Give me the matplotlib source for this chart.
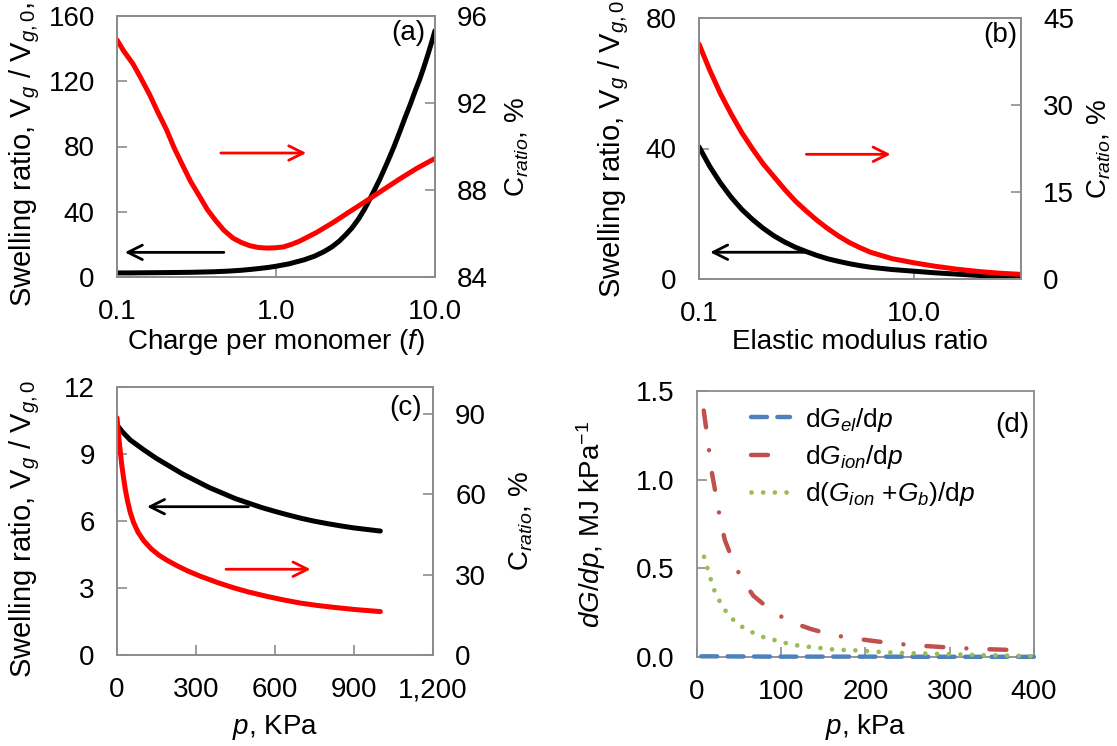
import matplotlib
matplotlib.use("Agg")
import matplotlib.pyplot as plt
from matplotlib.ticker import FixedLocator, NullLocator, FuncFormatter

plt.rcParams['font.family'] = ['Liberation Sans', 'DejaVu Sans']
plt.rcParams['mathtext.fontset'] = 'custom'
plt.rcParams['mathtext.rm'] = 'Liberation Sans'
plt.rcParams['mathtext.it'] = 'Liberation Sans:italic'
plt.rcParams['mathtext.bf'] = 'Liberation Sans:bold'
plt.rcParams['lines.scale_dashes'] = False

# ---------------- data ----------------
# (a) charge per monomer
f_swell = [0.1, 0.12, 0.15, 0.2, 0.25, 0.3, 0.4, 0.5, 0.6, 0.7, 0.8, 0.9, 1.0,
           1.2, 1.5, 1.75, 2.0, 2.25, 2.5, 2.75, 3.0, 3.3, 3.6, 4.0, 4.5, 5.0,
           5.5, 6.0, 6.5, 7.0, 7.5, 8.0, 8.5, 9.0, 9.5, 10.0]
swell_a = [2.5, 2.5, 2.6, 2.7, 2.8, 2.9, 3.2, 3.6, 4.1, 4.7, 5.3, 5.9, 6.6,
           8.0, 10.5, 12.8, 15.5, 18.5, 22, 26, 30, 35.5, 41.5, 50, 60, 70,
           79.5, 89, 98, 106, 114, 121, 128.5, 136, 143.5, 151]
f_conc = [0.1, 0.11, 0.126, 0.14, 0.16, 0.18, 0.204, 0.23, 0.26, 0.29, 0.331,
          0.37, 0.421, 0.47, 0.536, 0.6, 0.683, 0.77, 0.87, 0.98, 1.11, 1.25,
          1.41, 1.8, 2.28, 2.9, 3.7, 4.7, 5.97, 7.7, 10.0]
conc_a = [94.9, 94.4, 93.8, 93.2, 92.4, 91.6, 90.8, 89.9, 89.1, 88.4, 87.7,
          87.1, 86.56, 86.15, 85.79, 85.6, 85.44, 85.36, 85.33, 85.34, 85.38,
          85.5, 85.65, 86.05, 86.5, 87.0, 87.5, 88.0, 88.5, 89.0, 89.45]

# (b) elastic modulus ratio
e_swell = [0.1, 0.126, 0.158, 0.2, 0.251, 0.316, 0.398, 0.501, 0.631, 0.794,
           1.0, 1.26, 1.58, 2.0, 2.51, 3.16, 3.98, 6.31, 10.0, 15.8, 25.1,
           39.8, 63.1, 100.0]
swell_b = [40.5, 34.5, 29.5, 25, 21.3, 18.2, 15.5, 13.2, 11.3, 9.7, 8.4, 7.2,
           6.2, 5.4, 4.7, 4.1, 3.6, 2.9, 2.4, 1.9, 1.5, 1.1, 0.8, 0.5]
e_conc = [0.1, 0.126, 0.158, 0.2, 0.251, 0.316, 0.398, 0.501, 0.631, 0.794,
          1.0, 1.26, 1.58, 2.0, 2.51, 3.16, 3.98, 6.31, 10.0, 15.8, 25.1,
          39.8, 63.1, 100.0]
conc_b = [40.5, 36, 32, 28.4, 25.2, 22.4, 19.8, 17.6, 15.4, 13.4, 11.7, 10.1,
          8.7, 7.4, 6.3, 5.4, 4.6, 3.5, 2.8, 2.2, 1.7, 1.3, 1.0, 0.8]

# (c) pressure
p_swell = [0, 20, 50, 100, 150, 200, 250, 300, 350, 400, 450, 500, 550, 600,
           650, 700, 750, 800, 850, 900, 950, 1000]
swell_c = [10.3, 10.0, 9.63, 9.2, 8.8, 8.45, 8.1, 7.8, 7.5, 7.25, 7.0, 6.8,
           6.6, 6.43, 6.27, 6.12, 5.99, 5.88, 5.78, 5.69, 5.62, 5.55]
p_conc = [0, 4, 8, 13, 18, 25, 32, 40, 50, 63, 80, 101, 130, 160, 189, 230,
          270, 316, 380, 442, 500, 568, 630, 695, 760, 821, 900, 1000]
conc_c = [88.5, 84, 80, 75.5, 71, 66, 61.5, 57.5, 53.3, 49.4, 45.8, 42.7,
          39.6, 37.2, 35.4, 33.2, 31.3, 29.4, 27.1, 25.1, 23.5, 21.9, 20.6,
          19.4, 18.5, 17.8, 17.0, 16.2]

# (d) derivatives
p_el = [5, 50, 100, 200, 300, 400]
dGel = [0.004, 0.003, 0.002, 0.002, 0.001, 0.001]
p_ion = [8, 12, 15, 18, 23, 27, 33, 42, 53, 67, 88, 110, 135, 160, 183, 210,
         236, 261, 288, 312, 338, 364, 390]
dGion = [1.39, 1.25, 1.14, 1.03, 0.9, 0.79, 0.66, 0.55, 0.44, 0.345, 0.262,
         0.2, 0.158, 0.125, 0.107, 0.09, 0.075, 0.065, 0.057, 0.05, 0.045,
         0.041, 0.037]
p_ionb = [8.4, 12.6, 16.8, 21, 27.4, 34.5, 44, 55.6, 67.4, 81, 94, 108, 123,
          136, 164, 192, 219, 246, 276, 305, 333, 360, 400]
dGionb = [0.565, 0.50, 0.43, 0.37, 0.31, 0.256, 0.205, 0.163, 0.135, 0.108,
          0.093, 0.075, 0.062, 0.056, 0.041, 0.037, 0.028, 0.022, 0.019, 0.015,
          0.011, 0.009, 0.004]

legend_d = [r"d$G_{el}$/d$p$", r"d$G_{ion}$/d$p$", r"d($G_{ion}$ +$G_b$)/d$p$"]

# ---------------- style ----------------
W, H = 1117, 746
fig = plt.figure(figsize=(W / 100, H / 100), dpi=100)
GRAY = '#8c8c8c'
FS = 20
YFS = 21
LW = 3.6


def box(l, r, t, b):
    return [l / W, (H - b) / H, (r - l) / W, (b - t) / H]


def style(ax):
    for s in ax.spines.values():
        s.set_color(GRAY)
        s.set_linewidth(1.3)
    ax.tick_params(direction='in', length=7, width=1.2, color=GRAY,
                   labelsize=FS, pad=16, which='major')
    ax.tick_params(which='minor', length=0)


def arrow(ax, tail, tip, color):
    ax.annotate('', xy=tip, xytext=tail,
                arrowprops=dict(arrowstyle='->', lw=2, color=color,
                                mutation_scale=26, shrinkA=0, shrinkB=0))


one_dec = FuncFormatter(lambda v, p: f"{v:.1f}")
line_kw = dict(lw=LW, solid_capstyle='round', solid_joinstyle='round')

# ---------------- (a) ----------------
ax = fig.add_axes(box(117, 435, 16, 277))
ax2 = ax.twinx()
ax.plot(f_swell, swell_a, color='black', **line_kw)
ax2.plot(f_conc, conc_a, color='red', **line_kw)
ax.set_xscale('log')
ax.set_xlim(0.1, 10)
ax.set_ylim(0, 160)
ax2.set_ylim(84, 96)
ax.xaxis.set_major_locator(FixedLocator([0.1, 1, 10]))
ax.xaxis.set_minor_locator(NullLocator())
ax.xaxis.set_major_formatter(one_dec)
ax.set_yticks([0, 40, 80, 120, 160])
ax2.set_yticks([84, 88, 92, 96])
style(ax); style(ax2)
ax.set_xlabel(r"Charge per monomer ($f$)", fontsize=FS, labelpad=1.5)
ax.set_ylabel(r"Swelling ratio, V$_g$ / V$_{g,0}$,", fontsize=YFS)
ax.yaxis.set_label_coords(-0.236, 0.47)
ax2.set_ylabel(r"C$_{ratio}$, %", fontsize=FS)
ax2.yaxis.set_label_coords(1.214, 0.5)
ax.text(0.97, 0.985, '(a)', transform=ax.transAxes, ha='right', va='top',
        fontsize=FS)
arrow(ax, (0.47, 15.1), (0.112, 15.1), 'black')
arrow(ax2, (0.45, 89.7), (1.55, 89.7), 'red')

# ---------------- (b) ----------------
ax = fig.add_axes(box(699, 1021, 18, 279))
ax2 = ax.twinx()
ax.plot(e_swell, swell_b, color='black', **line_kw)
ax2.plot(e_conc, conc_b, color='red', **line_kw)
ax.set_xscale('log')
ax.set_xlim(0.1, 100)
ax.set_ylim(0, 80)
ax2.set_ylim(0, 45)
ax.xaxis.set_major_locator(FixedLocator([0.1, 10]))
ax.xaxis.set_minor_locator(NullLocator())
ax.xaxis.set_major_formatter(one_dec)
ax.set_yticks([0, 40, 80])
ax2.set_yticks([0, 15, 30, 45])
style(ax); style(ax2)
ax.set_xlabel("Elastic modulus ratio", fontsize=FS, labelpad=1.5)
ax.set_ylabel(r"Swelling ratio, V$_g$ / V$_{g,0}$", fontsize=YFS)
ax.yaxis.set_label_coords(-0.211, 0.5)
ax2.set_ylabel(r"C$_{ratio}$, %", fontsize=FS)
ax2.yaxis.set_label_coords(1.199, 0.5)
ax.text(0.99, 0.985, '(b)', transform=ax.transAxes, ha='right', va='top',
        fontsize=FS)
arrow(ax, (1.07, 8.2), (0.127, 8.2), 'black')
arrow(ax2, (1.0, 21.5), (6.1, 21.5), 'red')

# ---------------- (c) ----------------
ax = fig.add_axes(box(117, 433, 387, 655))
ax2 = ax.twinx()
ax.plot(p_swell, swell_c, color='black', **line_kw)
ax2.plot(p_conc, conc_c, color='red', **line_kw)
ax.set_xlim(0, 1200)
ax.set_ylim(0, 12)
ax2.set_ylim(0, 100)
ax.set_xticks([0, 300, 600, 900, 1200])
ax.xaxis.set_major_formatter(FuncFormatter(lambda v, p: f"{int(v):,}"))
ax.set_yticks([0, 3, 6, 9, 12])
ax2.set_yticks([0, 30, 60, 90])
style(ax); style(ax2)
ax.set_xlabel(r"$p$, KPa", fontsize=FS, labelpad=7)
ax.set_ylabel(r"Swelling ratio, V$_g$ / V$_{g,0}$", fontsize=YFS)
ax.yaxis.set_label_coords(-0.237, 0.47)
ax2.set_ylabel(r"C$_{ratio}$, %", fontsize=FS)
ax2.yaxis.set_label_coords(1.237, 0.5)
ax.text(0.965, 0.97, '(c)', transform=ax.transAxes, ha='right', va='top',
        fontsize=FS)
arrow(ax, (499, 6.64), (114, 6.64), 'black')
arrow(ax2, (414, 32), (735, 32), 'red')

# ---------------- (d) ----------------
ax = fig.add_axes(box(697, 1034, 391, 657))
ax.plot(p_el, dGel, color='#4F81BD', lw=3.2, dash_capstyle='round',
        dashes=(11.5, 7.5), label=legend_d[0], clip_on=False, zorder=3)
ax.plot(p_ion, dGion, color='#C0504D', lw=3.2, dash_capstyle='round',
        dashes=(12.2, 16.6, 0.01, 16.6), label=legend_d[1], zorder=3)
ax.plot(p_ionb, dGionb, color='#9BBB59', lw=3.4, dash_capstyle='round',
        dashes=(0.01, 8.4), label=legend_d[2], clip_on=False, zorder=3)
ax.set_xlim(0, 400)
ax.set_ylim(0, 1.5)
ax.set_xticks([0, 100, 200, 300, 400])
ax.set_yticks([0, 0.5, 1.0, 1.5])
ax.yaxis.set_major_formatter(FuncFormatter(lambda v, p: f"{v:.1f}"))
style(ax)
ax.set_xlabel(r"$p$, kPa", fontsize=FS, labelpad=5)
ax.set_ylabel(r"$dG/dp$, MJ kPa$^{-1}$", fontsize=FS)
ax.yaxis.set_label_coords(-0.264, 0.5)
ax.text(0.985, 0.92, '(d)', transform=ax.transAxes, ha='right', va='top',
        fontsize=FS)
ax.legend(loc='upper left', bbox_to_anchor=(0.13, 0.985), frameon=False,
          fontsize=19, handlelength=1.45, handletextpad=0.6,
          labelspacing=0.35, borderaxespad=0)

fig.savefig('out.png', dpi=100)
